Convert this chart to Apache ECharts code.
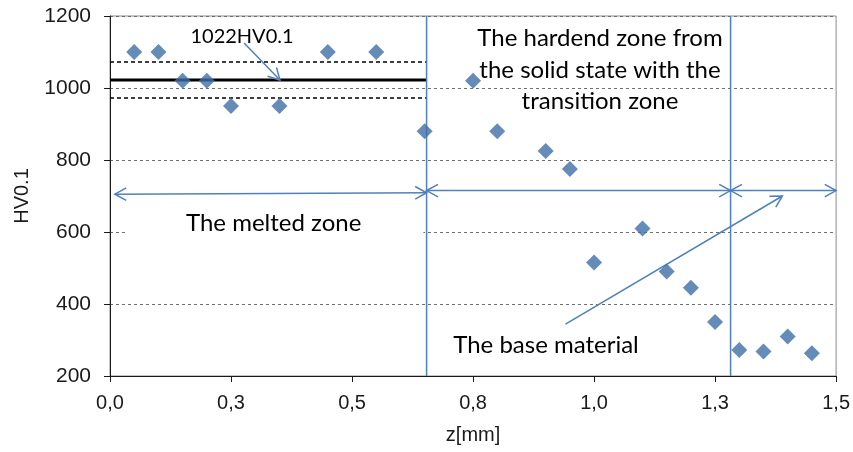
<!DOCTYPE html>
<html><head><meta charset="utf-8">
<script src="https://cdn.jsdelivr.net/npm/echarts@6/dist/echarts.min.js"></script>
<style>html,body{margin:0;padding:0;background:#fff}#c{width:853px;height:452px}</style>
</head><body><div id="c"></div>
<script>
// ---- data ----
const zPositions = [0.05,0.10,0.15,0.20,0.25,0.35,0.45,0.55,0.65,0.75,0.80,0.90,0.95,1.00,1.10,1.15,1.20,1.25,1.30,1.35,1.40,1.45];
const hardness   = [1100,1100,1020,1020,950,950,1100,1100,880,1020,880,825,775,515,610,490,445,350,272,268,310,263];
const xTickLabels = ['0,0','0,3','0,5','0,8','1,0','1,3','1,5'];
const yTickLabels = ['200','400','600','800','1000','1200'];
const meanHV = 1022, bandHV = 50;
const meltedEnd = 0.654, hardenedEnd = 1.282;
// arrows: [x1,y1,x2,y2,headAtStart,headAtEnd]
const arrows = [
  [0.277,1125,0.351,1022,0,1],
  [0.010,705,meltedEnd,709,1,1],
  [meltedEnd,715,hardenedEnd,715,1,1],
  [hardenedEnd,715,1.5,715,1,1],
  [0.941,344,1.389,700,0,1]
];
const seriesName = 'HV0.1';

const pts = zPositions.map((z,i)=>[z,hardness[i]]);
const blue = '#4F81BD';
const txtFont = 'Lato';

const chart = echarts.init(document.getElementById('c'));
function arrowItem(params, api){
  const p1 = api.coord([api.value(0), api.value(1)]);
  const p2 = api.coord([api.value(2), api.value(3)]);
  const children = [{type:'line', shape:{x1:p1[0],y1:p1[1],x2:p2[0],y2:p2[1]}, style:{stroke:blue,lineWidth:1.5}}];
  const ang = Math.atan2(p2[1]-p1[1], p2[0]-p1[0]);
  const L = 13, a = Math.PI/6.2;
  function head(p, dir){
    const b = dir;
    return {type:'polyline', shape:{points:[
      [p[0]-L*Math.cos(b-a), p[1]-L*Math.sin(b-a)], p,
      [p[0]-L*Math.cos(b+a), p[1]-L*Math.sin(b+a)]]},
      style:{stroke:blue,lineWidth:1.5,fill:null}};
  }
  if (api.value(5)) children.push(head(p2, ang));
  if (api.value(4)) children.push(head(p1, ang+Math.PI));
  return {type:'group', children};
}
chart.setOption({
  animation:false,
  grid:{left:110,right:16,top:16,bottom:76,show:true,borderColor:'#8c8c8c',borderWidth:1},
  xAxis:{type:'value',min:0,max:1.5,interval:0.25,name:'z[mm]',nameLocation:'middle',nameGap:49,
    nameTextStyle:{fontFamily:'Liberation Sans',fontSize:20,color:'#1a1a1a'},
    axisLine:{lineStyle:{color:'#1a1a1a',width:1}},axisTick:{show:true,length:6,lineStyle:{color:'#1a1a1a'}},
    axisLabel:{fontFamily:'Liberation Sans',fontSize:20,color:'#1a1a1a',margin:17,
      formatter:v=>xTickLabels[Math.round(v/0.25)]},
    splitLine:{show:false}},
  yAxis:{type:'value',min:200,max:1200,interval:200,name:'HV0.1',nameLocation:'middle',nameGap:78,nameRotate:90,
    nameTextStyle:{fontFamily:'Liberation Sans',fontSize:20,color:'#1a1a1a'},
    axisLine:{show:true,lineStyle:{color:'#1a1a1a',width:1}},axisTick:{show:true,length:6,lineStyle:{color:'#1a1a1a'}},
    axisLabel:{fontFamily:'Liberation Sans',fontSize:21,color:'#1a1a1a',margin:19,
      formatter:v=>yTickLabels[Math.round((v-200)/200)]},
    splitLine:{show:true,lineStyle:{color:'#6e6e6e',type:[3,3],width:1}}},
  graphic:[
    {type:'text',left:125,top:207,z:50,style:{text:'The melted zone',font:'24px '+txtFont,fill:'#000',
      backgroundColor:'#fff',padding:[4,62,4,61]}},
    {type:'text',x:600,y:70,z:50,style:{text:'The hardend zone from\nthe solid state with the\ntransition zone',
      font:'24px '+txtFont,fill:'#000',align:'center',verticalAlign:'middle',lineHeight:31.5}},
    {type:'text',x:546,y:345,z:50,style:{text:'The base material',font:'24px '+txtFont,fill:'#000',align:'center',verticalAlign:'middle'}},
    {type:'text',x:242,y:37,z:50,style:{text:'1022HV0.1',font:'20px '+txtFont,fill:'#000',align:'center',verticalAlign:'middle'}}
  ],
  series:[
    {type:'line',data:[[0,meanHV],[meltedEnd,meanHV]],symbol:'none',lineStyle:{color:'#000',width:3},z:3},
    {type:'line',data:[[0,meanHV+bandHV],[meltedEnd,meanHV+bandHV]],symbol:'none',lineStyle:{color:'#000',width:1.5,type:[4,3]},z:3},
    {type:'line',data:[[0,meanHV-bandHV],[meltedEnd,meanHV-bandHV]],symbol:'none',lineStyle:{color:'#000',width:1.5,type:[4,3]},z:3},
    {type:'line',data:[[meltedEnd,200],[meltedEnd,1200]],symbol:'none',lineStyle:{color:blue,width:1.5},z:3},
    {type:'line',data:[[hardenedEnd,200],[hardenedEnd,1200]],symbol:'none',lineStyle:{color:blue,width:1.5},z:3},
    {type:'custom',renderItem:arrowItem,data:arrows,z:4,clip:false},
    {name:seriesName,type:'scatter',data:pts,symbol:'diamond',symbolSize:16,itemStyle:{color:'#3F6EA8'},z:5}
  ]
});
</script></body></html>
